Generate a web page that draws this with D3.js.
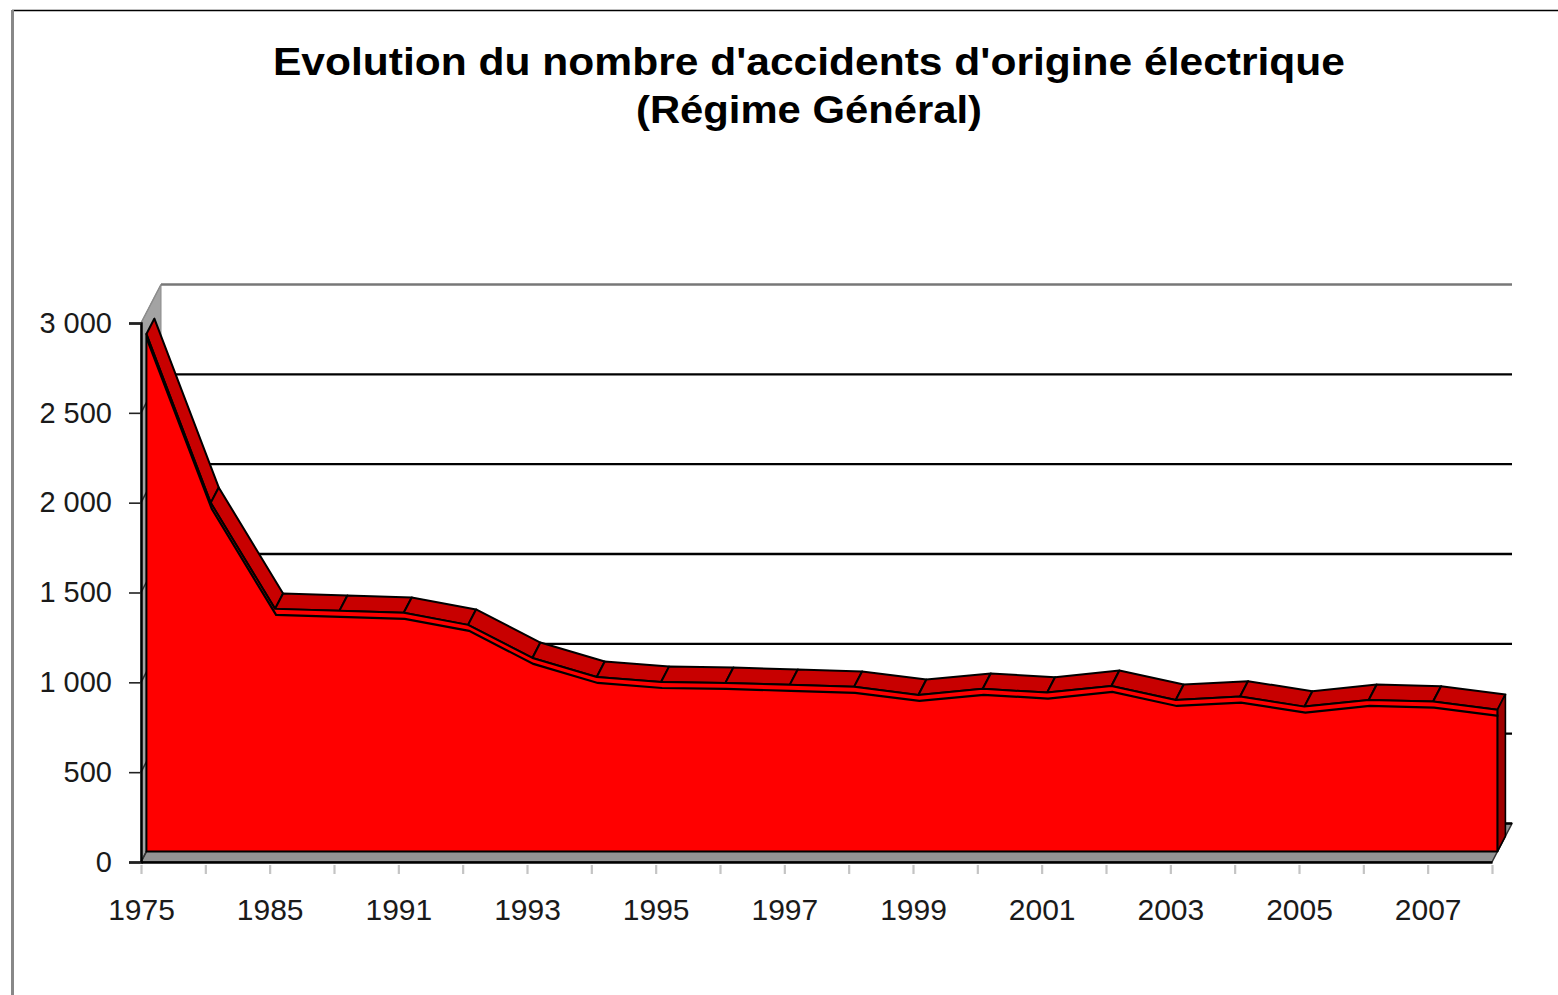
<!DOCTYPE html>
<html>
<head>
<meta charset="utf-8">
<script src="https://cdn.jsdelivr.net/npm/d3@7/dist/d3.min.js"></script>
<style>
  html, body { margin: 0; padding: 0; background: #ffffff; }
  svg { display: block; }
  text { font-family: "Liberation Sans", Arial, sans-serif; }
</style>
</head>
<body>
<svg id="chart" width="1558" height="995"></svg>
<script>
// ---- data ----
const categories = ["1975","1980","1985","1990","1991","1992","1993","1994","1995","1996","1997",
                    "1998","1999","2000","2001","2002","2003","2004","2005","2006","2007","2008"];
const values = [2881, 1941, 1351, 1340, 1329, 1262, 1078, 972, 944, 939, 928,
                917, 872, 906, 885, 922, 844, 863, 807, 844, 835, 789];
const yTicks = [0, 500, 1000, 1500, 2000, 2500, 3000];
const xTickLabels = ["1975","1985","1991","1993","1995","1997","1999","2001","2003","2005","2007"];
const titleLines = ["Evolution du nombre d'accidents d'origine électrique", "(Régime Général)"];

// ---- layout ----
const svg = d3.select("#chart");
const W = 1558, H = 995;
const x = d3.scalePoint().domain(categories).range([141, 1492]);
const y = d3.scaleLinear().domain([0, 3000]).range([862, 323]);
const DX = 20, DY = 38.5;      // full depth offset of the 3D box
const Z1 = 0.27, Z2 = 0.67;    // series depth slice

const P = (cat, v, z) => [x(cat) + z * DX, y(v) - z * DY];
const poly = pts => "M" + pts.map(p => p.join(",")).join("L") + "Z";
const first = categories[0], last = categories[categories.length - 1];
const vmax = yTicks[yTicks.length - 1];

// frame
svg.append("line").attr("x1", 12).attr("x2", W).attr("y1", 10.5).attr("y2", 10.5)
  .attr("stroke", "#000").attr("stroke-width", 1.5);
svg.append("line").attr("x1", 12.5).attr("x2", 12.5).attr("y1", 10).attr("y2", H)
  .attr("stroke", "#888").attr("stroke-width", 3);

// title
svg.append("text").attr("x", 273).attr("y", 75)
  .attr("font-size", 39).attr("font-weight", "bold").attr("fill", "#000")
  .attr("textLength", 1072).attr("lengthAdjust", "spacingAndGlyphs")
  .text(titleLines[0]);
svg.append("text").attr("x", 636).attr("y", 123)
  .attr("font-size", 39).attr("font-weight", "bold").attr("fill", "#000")
  .attr("textLength", 346).attr("lengthAdjust", "spacingAndGlyphs")
  .text(titleLines[1]);

// left wall
svg.append("path")
  .attr("d", poly([P(first, 0, 0), P(first, vmax, 0), P(first, vmax, 1), P(first, 0, 1)]))
  .attr("fill", "#a3a3a3").attr("stroke", "#8a8a8a").attr("stroke-width", 1);

// floor
svg.append("path")
  .attr("d", poly([P(first, 0, 0), P(last, 0, 0), P(last, 0, 1), P(first, 0, 1)]))
  .attr("fill", "#939393").attr("stroke", "#333").attr("stroke-width", 1.5);

// back wall gridlines + left wall gridlines
yTicks.forEach(v => {
  const a = P(first, v, 1), b = P(last, v, 1), c = P(first, v, 0);
  const col = v === vmax ? "#777" : "#000";
  svg.append("line").attr("x1", a[0]).attr("y1", a[1]).attr("x2", b[0]).attr("y2", b[1])
    .attr("stroke", col).attr("stroke-width", 2.4);
  svg.append("line").attr("x1", c[0]).attr("y1", c[1]).attr("x2", a[0]).attr("y2", a[1])
    .attr("stroke", v === vmax ? "#8c8c8c" : "#333").attr("stroke-width", 1.5);
});

// series: top strip segments
const data = categories.map((c, i) => ({ c, v: values[i] }));
const g = svg.append("g");
for (let i = 0; i < data.length - 1; i++) {
  const a = data[i], b = data[i + 1];
  g.append("path")
    .attr("d", poly([P(a.c, a.v, Z1), P(b.c, b.v, Z1), P(b.c, b.v, Z2), P(a.c, a.v, Z2)]))
    .attr("fill", "#c80000").attr("stroke", "#000").attr("stroke-width", 2)
    .attr("stroke-linejoin", "round");
}
// right side face
const lv = data[data.length - 1].v;
g.append("path")
  .attr("d", poly([P(last, lv, Z1), P(last, 0, Z1), P(last, 0, Z2), P(last, lv, Z2)]))
  .attr("fill", "#a00000").attr("stroke", "#000").attr("stroke-width", 1.6);

// front face
const front = data.map(d => P(d.c, d.v, Z1));
front.push(P(last, 0, Z1), P(first, 0, Z1));
g.append("path").attr("d", poly(front))
  .attr("fill", "#ff0000").attr("stroke", "#000").attr("stroke-width", 2)
  .attr("stroke-linejoin", "round");
// inner edge line of the front face (double edge look)
const inner = d3.line().x(d => P(d.c, d.v, Z1)[0] + 1).y(d => P(d.c, d.v, Z1)[1] + 6);
g.append("path").attr("d", inner(data)).attr("fill", "none")
  .attr("stroke", "#000").attr("stroke-width", 2.2);

// y axis (front)
const fmt = d3.formatLocale({ thousands: " ", grouping: [3], decimal: ",", currency: ["", "€"] }).format(",");
const yAxis = svg.append("g").attr("transform", "translate(141,0)")
  .call(d3.axisLeft(y).tickValues(yTicks).tickFormat(fmt).tickSize(12).tickPadding(17));
yAxis.select(".domain").attr("stroke", "#000").attr("stroke-width", 2.5);
yAxis.selectAll(".tick line").attr("stroke", "#222").attr("stroke-width", 1.6);
yAxis.selectAll(".tick text").attr("font-size", 29).attr("fill", "#1a1a1a")
  .style("font-family", "'Liberation Sans', Arial, sans-serif");

// x axis (front)
const xAxis = svg.append("g").attr("transform", "translate(0,862)")
  .call(d3.axisBottom(x).tickSizeOuter(0).tickSizeInner(12)
    .tickFormat(d => xTickLabels.includes(d) ? d : ""));
xAxis.select(".domain").attr("stroke", "#000").attr("stroke-width", 2.5);
xAxis.selectAll(".tick line").attr("stroke", "#c4c4c4").attr("stroke-width", 2.2)
  .attr("y1", 3).attr("y2", 12);
xAxis.selectAll(".tick text").attr("font-size", 30).attr("fill", "#1a1a1a")
  .attr("y", 58).attr("dy", 0)
  .style("font-family", "'Liberation Sans', Arial, sans-serif");
</script>
</body>
</html>
